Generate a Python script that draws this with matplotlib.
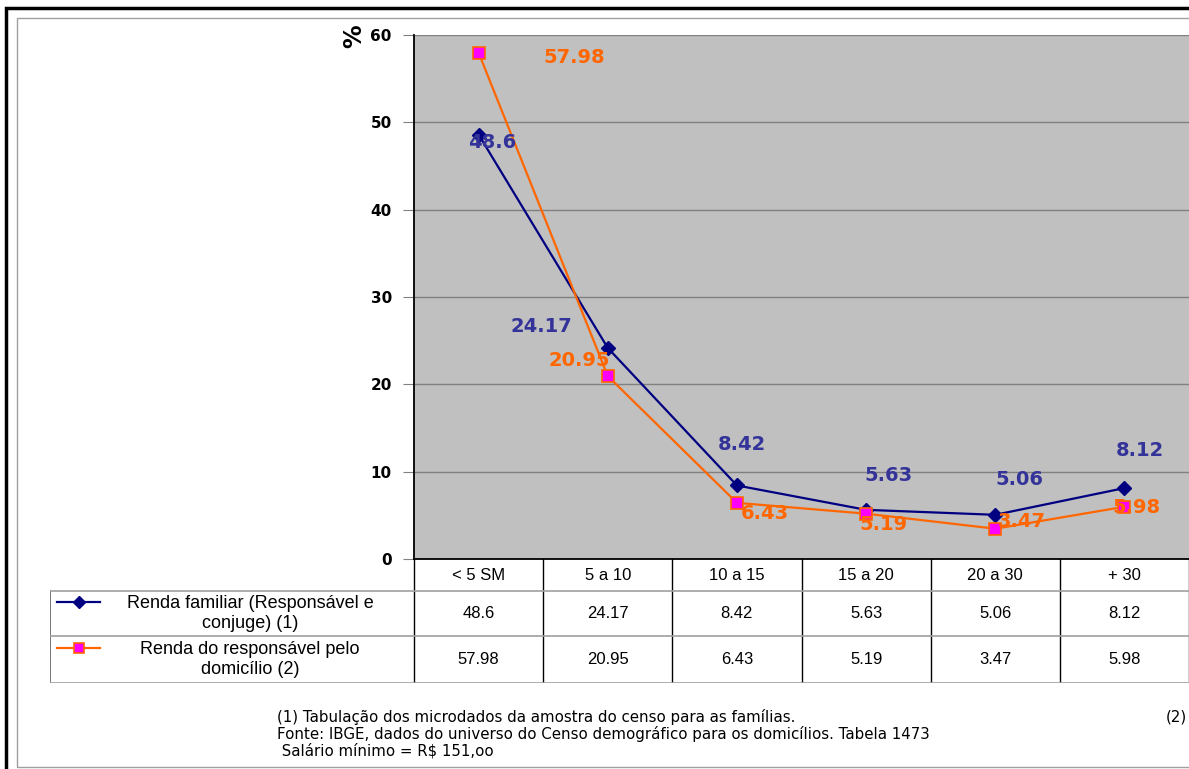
import matplotlib
matplotlib.use("Agg")
import matplotlib.pyplot as plt
from matplotlib.patches import Rectangle
from matplotlib.lines import Line2D

categories = ["< 5 SM", "5 a 10", "10 a 15", "15 a 20", "20 a 30", "+ 30"]
familiar = [48.6, 24.17, 8.42, 5.63, 5.06, 8.12]
responsavel = [57.98, 20.95, 6.43, 5.19, 3.47, 5.98]
label_familiar = "Renda familiar (Responsável e\nconjuge) (1)"
label_responsavel = "Renda do responsável pelo\ndomicílio (2)"
footer = ["(1) Tabulação dos microdados da amostra do censo para as famílias.",
          "Fonte: IBGE, dados do universo do Censo demográfico para os domicílios. Tabela 1473",
          " Salário mínimo = R$ 151,oo"]

# label offsets in pixels (placement only)
off_fam = [(14, -8), (-66, 21), (5, 41), (22, 34), (24, 35), (15, 38)]
off_resp = [(96, -5), (-28, 16), (28, -11), (17, -11), (26, 7), (12, -1)]

W, H = 1189, 769
fig = plt.figure(figsize=(W / 100, H / 100), dpi=100)

def fx(px): return px / W
def fy(py): return 1 - py / H

# outer frames
fig.patches.append(Rectangle((fx(6), fy(H + 10)), 1.2, fy(8) - fy(H + 10), transform=fig.transFigure,
                             fill=False, edgecolor="black", linewidth=2.5))
fig.patches.append(Rectangle((fx(17), fy(767)), 1.2, fy(18) - fy(767), transform=fig.transFigure,
                             fill=False, edgecolor="#a0a0a0", linewidth=1))

navy = "#000080"
orange = "#FF6600"

ax = fig.add_axes([fx(414), fy(559), fx(1189) - fx(414), fy(35) - fy(559)])
ax.set_facecolor("#C0C0C0")
x = list(range(len(categories)))
ax.plot(x, familiar, color=navy, lw=1.6, marker="D", ms=7, mfc=navy, mec=navy, zorder=3)
ax.plot(x, responsavel, color=orange, lw=1.6, marker="s", ms=8, mfc="#FF00FF", mec=orange, mew=1.2, zorder=3)
for i in x:
    ax.annotate(f"{familiar[i]:g}", (i, familiar[i]), xytext=off_fam[i], textcoords="offset pixels",
                ha="center", va="center", color="#333399", fontsize=14, fontweight="bold",
                family="DejaVu Sans", zorder=4)
    ax.annotate(f"{responsavel[i]:g}", (i, responsavel[i]), xytext=off_resp[i], textcoords="offset pixels",
                ha="center", va="center", color=orange, fontsize=14, fontweight="bold",
                family="DejaVu Sans", zorder=4)
ax.set_xlim(-0.5, len(categories) - 0.5)
ax.set_ylim(0, 60)
ax.set_yticks(range(0, 61, 10))
ax.set_xticks([])
for t in range(10, 61, 10):
    ax.axhline(t, color="#808080", lw=1, zorder=1)
ax.tick_params(axis="y", length=8, color="#808080", pad=8, labelsize=11)
for lab in ax.get_yticklabels():
    lab.set_fontweight("bold")
    lab.set_family("DejaVu Sans")
for s in ["top", "right"]:
    ax.spines[s].set_visible(False)
ax.spines["left"].set_color("black")
ax.spines["bottom"].set_color("black")
ax.spines["left"].set_linewidth(1.3)
ax.spines["bottom"].set_linewidth(1.3)
fig.text(fx(354), fy(36), "%", rotation=90, ha="center", va="center", fontsize=17,
         fontweight="bold", family="DejaVu Sans")

# data table under the plot
col_w = (1189 - 414) / len(categories)
left_data = -0.5 - (414 - 50) / col_w
tab = fig.add_axes([fx(50), fy(683), fx(1189) - fx(50), fy(559) - fy(683)])
tab.set_xlim(left_data, len(categories) - 0.5)
tab.set_ylim(683, 559)
tab.axis("off")
rows_y = [559, 591, 636, 683]
for b in range(len(categories) + 1):
    tab.plot([b - 0.5, b - 0.5], [559, 683], color="black", lw=1)
tab.plot([left_data, left_data], [591, 683], color="#606060", lw=1.2)
for yy in rows_y[1:]:
    tab.plot([left_data, len(categories) - 0.5], [yy, yy], color="#a0a0a0", lw=1.2)
tfont = dict(family=["Liberation Sans", "DejaVu Sans"], fontsize=12)
for i, c in enumerate(categories):
    tab.text(i, 575.5, c, ha="center", va="center", **tfont)
    tab.text(i, 613.5, f"{familiar[i]:g}", ha="center", va="center", **tfont)
    tab.text(i, 659.5, f"{responsavel[i]:g}", ha="center", va="center", **tfont)
lx0 = left_data + 7 / col_w
lx1 = left_data + 50 / col_w
tab.add_line(Line2D([lx0, lx1], [602, 602], color=navy, lw=1.6))
tab.plot([(lx0 + lx1) / 2], [602], marker="D", ms=6, color=navy)
tab.add_line(Line2D([lx0, lx1], [648, 648], color=orange, lw=1.6))
tab.plot([(lx0 + lx1) / 2], [648], marker="s", ms=7.5, mfc="#FF00FF", mec=orange, mew=1.2)
tx = left_data + 200 / col_w
tab.text(tx, 613.5, label_familiar, ha="center", va="center", multialignment="center",
         linespacing=1.3, family=["Liberation Sans", "DejaVu Sans"], fontsize=13)
tab.text(tx, 659.5, label_responsavel, ha="center", va="center", multialignment="center",
         linespacing=1.3, family=["Liberation Sans", "DejaVu Sans"], fontsize=13)

ffont = dict(family="DejaVu Sans", fontsize=10.8)
for k, line in enumerate(footer):
    fig.text(fx(277), fy(717 + 17 * k), line, ha="left", va="center", **ffont)
fig.text(fx(1166), fy(717), "(2)", ha="left", va="center", **ffont)

fig.savefig("out.png", dpi=100)
